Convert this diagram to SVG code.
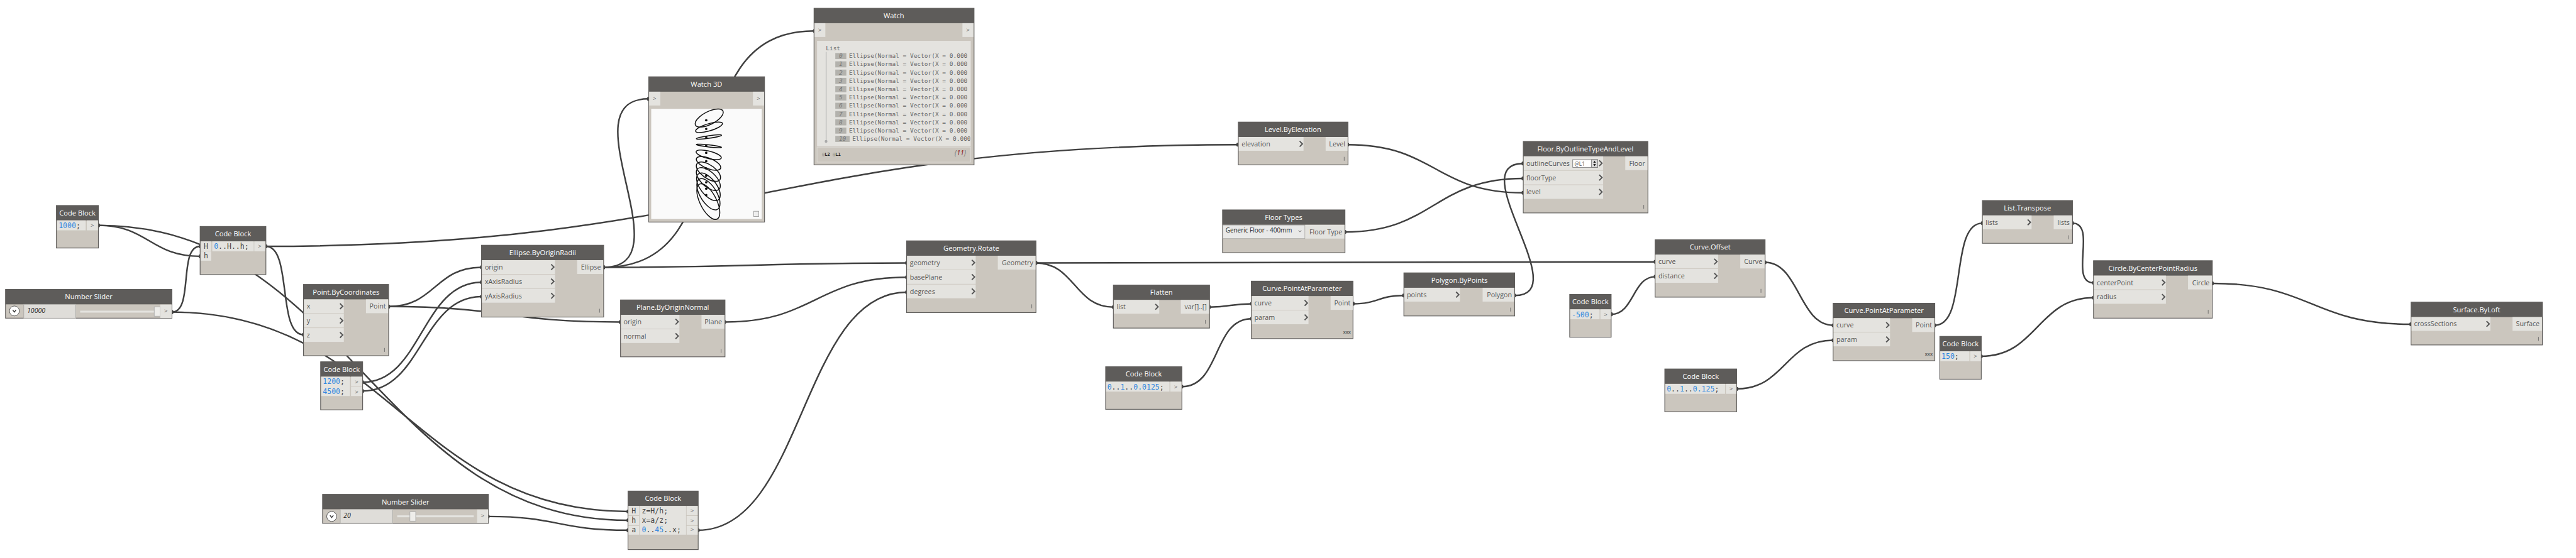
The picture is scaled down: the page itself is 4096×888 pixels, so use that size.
<svg xmlns="http://www.w3.org/2000/svg" width="4096" height="888" viewBox="0 0 4096 888">
<style>
.b{fill:#cbc6be;stroke:#5e5c5a;stroke-width:1.3}
.h{fill:#5e5c5a}
.p{fill:#e4e3df}
.t{font:500 12.7px "Open Sans",sans-serif;fill:#fff;text-anchor:middle}
.l{font:12.2px "Open Sans",sans-serif;fill:#555}
.r{text-anchor:end}
.m{text-anchor:middle}
.c{font:13.1px "DejaVu Sans Mono",monospace;fill:#444}
.n{fill:#2e86e0}
.g{font:11px "Open Sans",sans-serif;fill:#666;text-anchor:middle}
.x{font:bold 8px "Open Sans",sans-serif;fill:#666;text-anchor:end}
.lc{fill:#666}
.s{font:italic 12px "Open Sans",sans-serif;fill:#222}
.w{fill:none;stroke:#404040;stroke-width:2.8;marker-start:url(#nub);marker-end:url(#nub)}
.ch{fill:none;stroke:#555;stroke-width:2.2}
.e{fill:none;stroke:#111;stroke-width:1.5;vector-effect:non-scaling-stroke}
.d{fill:#111}
.wt{font:10.8px "DejaVu Sans Mono",monospace;fill:#666}
.wi{font:italic 10.8px "DejaVu Sans Mono",monospace;fill:#777;text-anchor:middle}
.ib{fill:#b3b2ad}
</style>
<defs>
<marker id="nub" markerUnits="userSpaceOnUse" markerWidth="10" markerHeight="10" refX="5" refY="5" orient="auto"><rect x="2.5" y="1.5" width="5" height="7" rx="2" fill="#404040"/></marker>
<path id="chev" class="ch" d="M-5,-5 L0,0 L-5,5"/>
<circle id="unit" class="e" r="1"/>
<clipPath id="wclip"><rect x="1478" y="74" width="277" height="191"/></clipPath>
</defs>
<g transform="scale(0.879)">
<rect width="4660" height="1010" fill="#fff"/>
<g id="connectors">
<path class="w" d="M178,408 C268,408 272,464 362,464"/>
<path class="w" d="M178,408 C628,408 686,942 1136,942"/>
<path class="w" d="M311,565 C351,565 322,446 362,446"/>
<path class="w" d="M311,565 C699,565 748,926 1136,926"/>
<path class="w" d="M481,446 C529,446 501,606 549,606"/>
<path class="w" d="M481,446 C1307,446 1413,262 2239,262"/>
<path class="w" d="M703,555 C787,555 787,484 871,484"/>
<path class="w" d="M703,555 C913,555 913,583 1122,583"/>
<path class="w" d="M656,692 C763,692 763,511 871,511"/>
<path class="w" d="M656,708 C763,708 763,537 871,537"/>
<path class="w" d="M1092,484 C1366,484 1366,476 1640,476"/>
<path class="w" d="M1092,484 C1242,484 1023,179 1173,179"/>
<path class="w" d="M1092,484 C1357,484 1208,56 1473,56"/>
<path class="w" d="M1311,583 C1475,583 1476,502 1640,502"/>
<path class="w" d="M1263,960 C1453,960 1450,529 1640,529"/>
<path class="w" d="M883,935 C1010,935 1009,960 1136,960"/>
<path class="w" d="M1874,476 C1944,476 1944,556 2014,556"/>
<path class="w" d="M1874,476 C2434,476 2434,474 2994,474"/>
<path class="w" d="M2188,556 C2226,556 2226,550 2264,550"/>
<path class="w" d="M2138,700 C2208,700 2194,577 2264,577"/>
<path class="w" d="M2448,550 C2493,550 2494,535 2539,535"/>
<path class="w" d="M2740,535 C2850,535 2645,296 2755,296"/>
<path class="w" d="M2438,262 C2597,262 2596,349 2755,349"/>
<path class="w" d="M2433,420 C2594,420 2594,323 2755,323"/>
<path class="w" d="M2915,569 C2955,569 2954,501 2994,501"/>
<path class="w" d="M3193,475 C3254,475 3255,589 3316,589"/>
<path class="w" d="M3142,704 C3229,704 3229,616 3316,616"/>
<path class="w" d="M3500,589 C3560,589 3526,404 3586,404"/>
<path class="w" d="M3584,645 C3685,645 3686,539 3787,539"/>
<path class="w" d="M3749,404 C3794,404 3742,512 3787,512"/>
<path class="w" d="M4002,513 C4182,513 4181,587 4361,587"/>
</g>

<g id="cb-1000"><rect class="b" x="102" y="372" width="76" height="77"/><rect class="h" x="102" y="372" width="76" height="27"/><text class="t" x="140" y="390">Code Block</text>
<rect class="p" x="103" y="399" width="52" height="18"/><rect class="p" x="157" y="399" width="20" height="18"/><text class="c" x="106" y="413"><tspan class="n">1000</tspan>;</text><text class="g" x="167" y="412">&gt;</text></g>

<g id="cb-range"><rect class="b" x="362" y="410" width="119" height="87"/><rect class="h" x="362" y="410" width="119" height="27"/><text class="t" x="421.500" y="428">Code Block</text>
<rect class="p" x="363" y="437" width="19" height="17"/><rect class="p" x="363" y="455" width="19" height="17"/><rect class="p" x="384" y="437" width="75" height="18"/><rect class="p" x="460" y="437" width="20" height="18"/>
<text class="c m" x="372.500" y="450">H</text><text class="c m" x="372.500" y="468">h</text><text class="c" x="387" y="450"><tspan class="n">0</tspan>..H..h;</text><text class="g" x="470" y="449">&gt;</text></g>

<g id="slider-10000"><rect class="b" x="10" y="524" width="301" height="52"/><rect class="h" x="10" y="524" width="301" height="27"/><text class="t" x="160.500" y="542">Number Slider</text>
<circle cx="26" cy="563" r="9" fill="#fff" stroke="#444"/><path d="M23,561 L26,565 L29,561" fill="none" stroke="#333" stroke-width="1.6"/>
<rect x="43" y="551" width="94" height="25" fill="#dfddd9" stroke="#a9a8a4"/><text class="s" x="49" y="566">10000</text>
<rect x="145" y="562.500" width="134" height="3.500" fill="#e4e3df"/><rect x="279" y="555.500" width="11" height="17" fill="#eeedea" stroke="#aaa"/>
<rect class="p" x="290" y="551.500" width="20.500" height="24"/><text class="g" x="300" y="566">&gt;</text></g>

<g id="point-by-coordinates"><rect class="b" x="549" y="515" width="154" height="129"/><rect class="h" x="549" y="515" width="154" height="27"/><text class="t" x="626" y="533">Point.ByCoordinates</text>
<rect class="p" x="550" y="542" width="72" height="25"/><rect class="p" x="550" y="568" width="72" height="25"/><rect class="p" x="550" y="594" width="72" height="25"/><rect class="p" x="662" y="542" width="40" height="25"/>
<text class="l" x="555" y="559">x</text><text class="l" x="555" y="585">y</text><text class="l" x="555" y="611">z</text><text class="l r" x="698" y="559">Point</text>
<use href="#chev" x="620" y="554.500"/><use href="#chev" x="620" y="580.500"/><use href="#chev" x="620" y="606.500"/><rect class="lc" x="695" y="630" width="1" height="7"/></g>

<g id="cb-radii"><rect class="b" x="580" y="655" width="76" height="87"/><rect class="h" x="580" y="655" width="76" height="27"/><text class="t" x="618" y="673">Code Block</text>
<rect class="p" x="581" y="682" width="52" height="35"/><rect class="p" x="635" y="682" width="20" height="17"/><rect class="p" x="635" y="700" width="20" height="17"/>
<text class="c" x="584" y="695"><tspan class="n">1200</tspan>;</text><text class="c" x="584" y="713"><tspan class="n">4500</tspan>;</text><text class="g" x="645" y="695">&gt;</text><text class="g" x="645" y="713">&gt;</text></g>

<g id="ellipse-by-origin-radii"><rect class="b" x="871" y="444" width="221" height="130"/><rect class="h" x="871" y="444" width="221" height="27"/><text class="t" x="981.500" y="462">Ellipse.ByOriginRadii</text>
<rect class="p" x="872" y="471" width="132" height="25"/><rect class="p" x="872" y="497" width="132" height="25"/><rect class="p" x="872" y="523" width="132" height="25"/><rect class="p" x="1044" y="471" width="47" height="25"/>
<text class="l" x="877" y="488">origin</text><text class="l" x="877" y="514">xAxisRadius</text><text class="l" x="877" y="540">yAxisRadius</text><text class="l r" x="1087" y="488">Ellipse</text>
<use href="#chev" x="1002" y="483.500"/><use href="#chev" x="1002" y="509.500"/><use href="#chev" x="1002" y="535.500"/><rect class="lc" x="1084" y="559" width="1" height="7"/></g>

<g id="plane-by-origin-normal"><rect class="b" x="1122.500" y="543" width="189" height="103"/><rect class="h" x="1122.500" y="543" width="189" height="27"/><text class="t" x="1217" y="561">Plane.ByOriginNormal</text>
<rect class="p" x="1123.500" y="570" width="105.500" height="25"/><rect class="p" x="1123.500" y="596" width="105.500" height="25"/><rect class="p" x="1269" y="570" width="41.500" height="25"/>
<text class="l" x="1128" y="587">origin</text><text class="l" x="1128" y="613">normal</text><text class="l r" x="1306" y="587">Plane</text>
<use href="#chev" x="1227" y="582.500"/><use href="#chev" x="1227" y="608.500"/><rect class="lc" x="1304" y="632" width="1" height="7"/></g>

<g id="slider-20"><rect class="b" x="583.500" y="895" width="300" height="52.500"/><rect class="h" x="583.500" y="895" width="300" height="27"/><text class="t" x="733.500" y="913">Number Slider</text>
<circle cx="600" cy="935" r="9" fill="#fff" stroke="#444"/><path d="M597,933 L600,937 L603,933" fill="none" stroke="#333" stroke-width="1.600"/>
<rect x="615.500" y="922" width="95" height="25" fill="#dfddd9" stroke="#a9a8a4"/><text class="s" x="621.500" y="937">20</text>
<rect x="718.500" y="933" width="138.500" height="3.500" fill="#e4e3df"/><rect x="741.500" y="926.500" width="10.500" height="17" fill="#eeedea" stroke="#aaa"/>
<rect class="p" x="863" y="922.500" width="20" height="24"/><text class="g" x="873" y="937">&gt;</text></g>

<g id="cb-rotation"><rect class="b" x="1136" y="889" width="127" height="106"/><rect class="h" x="1136" y="889" width="127" height="27"/><text class="t" x="1199.500" y="907">Code Block</text>
<rect class="p" x="1137" y="916" width="19" height="17"/><rect class="p" x="1137" y="934" width="19" height="17"/><rect class="p" x="1137" y="952" width="19" height="16"/><rect class="p" x="1157" y="916" width="84" height="52"/><rect class="p" x="1242" y="916" width="20" height="17"/><rect class="p" x="1242" y="934" width="20" height="17"/><rect class="p" x="1242" y="952" width="20" height="16"/>
<text class="c m" x="1146.500" y="929">H</text><text class="c m" x="1146.500" y="947">h</text><text class="c m" x="1146.500" y="964">a</text>
<text class="c" x="1161" y="929">z=H/h;</text><text class="c" x="1161" y="947">x=a/z;</text><text class="c" x="1161" y="964"><tspan class="n">0</tspan>..<tspan class="n">45</tspan>..x;</text>
<text class="g" x="1252" y="928">&gt;</text><text class="g" x="1252" y="946">&gt;</text><text class="g" x="1252" y="963">&gt;</text></g>

<g id="watch-3d"><rect class="b" x="1173.500" y="139" width="209.500" height="263"/><rect class="h" x="1173.500" y="139" width="209.500" height="27"/><text class="t" x="1278" y="157">Watch 3D</text>
<rect class="p" x="1174.500" y="166" width="20" height="25"/><rect class="p" x="1362" y="166" width="20" height="25"/><text class="g" x="1184" y="182">&gt;</text><text class="g" x="1372" y="182">&gt;</text>
<rect x="1178" y="197" width="200" height="199.500" fill="#fafafa"/>
<use href="#unit" transform="matrix(25.4,-10.3,0,12.7,1282.9,213.7)"/><use href="#unit" transform="matrix(24.3,-6.6,0,6.8,1282.6,230.5)"/><use href="#unit" transform="matrix(22.8,-3.2,0,2.4,1282.4,248)"/><use href="#unit" transform="matrix(22.8,2.6,0,1.9,1282.4,264.2)"/><use href="#unit" transform="matrix(22.8,5.2,0,7,1282,280.3)"/><use href="#unit" transform="matrix(22.1,7.5,0,10,1281.7,295.8)"/><use href="#unit" transform="matrix(21.9,10.5,0,14,1281.5,310.8)"/><use href="#unit" transform="matrix(21.7,12.5,0,16.6,1281.3,324.2)"/><use href="#unit" transform="matrix(21.4,15,0,20,1281.5,338.3)"/><use href="#unit" transform="matrix(21,17,0,22.6,1281.5,351.7)"/><use href="#unit" transform="matrix(20.8,20,0,25.4,1281.3,365)"/>
<circle class="d" cx="1277.500" cy="217.700" r="2.200"/><circle class="d" cx="1277.500" cy="233.300" r="2.200"/><circle class="d" cx="1277.500" cy="248" r="2.200"/><circle class="d" cx="1277.500" cy="264" r="2.200"/><circle class="d" cx="1277.500" cy="276.700" r="2.200"/><circle class="d" cx="1277.500" cy="291.700" r="2.200"/><circle class="d" cx="1277.500" cy="305" r="2.200"/><circle class="d" cx="1277.500" cy="318.300" r="2.200"/><circle class="d" cx="1277.500" cy="330" r="2.200"/><circle class="d" cx="1277.500" cy="341.700" r="2.200"/><circle class="d" cx="1277.500" cy="353.300" r="2.200"/>
<rect x="1363.500" y="382.500" width="9" height="9.500" fill="#eee" stroke="#999"/></g>

<g id="watch"><rect class="b" x="1472.500" y="15" width="289.500" height="283.500"/><rect class="h" x="1472.500" y="15" width="289.500" height="27"/><text class="t" x="1617" y="33">Watch</text>
<rect class="p" x="1473.500" y="42" width="19.500" height="25"/><rect class="p" x="1741" y="42" width="20" height="25"/><text class="g" x="1483" y="58">&gt;</text><text class="g" x="1751" y="58">&gt;</text>
<rect class="p" x="1478" y="74" width="278" height="191"/><rect x="1478" y="266.500" width="278" height="27" fill="none" stroke="#dcdad5"/>
<text class="wt" x="1494" y="91">List</text><rect x="1493.700" y="94" width="1.300" height="162" fill="#aaa"/><circle cx="1494.300" cy="256" r="2.500" fill="#aaa"/>
<g clip-path="url(#wclip)">
<rect class="ib" x="1511" y="96" width="20" height="11"/><text class="wi" x="1521" y="105">0</text><text class="wt" x="1535.700" y="105">Ellipse(Normal = Vector(X = 0.000</text>
<rect class="ib" x="1511" y="111" width="20" height="11"/><text class="wi" x="1521" y="120">1</text><text class="wt" x="1535.700" y="120">Ellipse(Normal = Vector(X = 0.000</text>
<rect class="ib" x="1511" y="126" width="20" height="11"/><text class="wi" x="1521" y="135">2</text><text class="wt" x="1535.700" y="135">Ellipse(Normal = Vector(X = 0.000</text>
<rect class="ib" x="1511" y="141" width="20" height="11"/><text class="wi" x="1521" y="150">3</text><text class="wt" x="1535.700" y="150">Ellipse(Normal = Vector(X = 0.000</text>
<rect class="ib" x="1511" y="156" width="20" height="11"/><text class="wi" x="1521" y="165">4</text><text class="wt" x="1535.700" y="165">Ellipse(Normal = Vector(X = 0.000</text>
<rect class="ib" x="1511" y="171" width="20" height="11"/><text class="wi" x="1521" y="180">5</text><text class="wt" x="1535.700" y="180">Ellipse(Normal = Vector(X = 0.000</text>
<rect class="ib" x="1511" y="186" width="20" height="11"/><text class="wi" x="1521" y="195">6</text><text class="wt" x="1535.700" y="195">Ellipse(Normal = Vector(X = 0.000</text>
<rect class="ib" x="1511" y="201" width="20" height="11"/><text class="wi" x="1521" y="210">7</text><text class="wt" x="1535.700" y="210">Ellipse(Normal = Vector(X = 0.000</text>
<rect class="ib" x="1511" y="216" width="20" height="11"/><text class="wi" x="1521" y="225">8</text><text class="wt" x="1535.700" y="225">Ellipse(Normal = Vector(X = 0.000</text>
<rect class="ib" x="1511" y="231" width="20" height="11"/><text class="wi" x="1521" y="240">9</text><text class="wt" x="1535.700" y="240">Ellipse(Normal = Vector(X = 0.000</text>
<rect class="ib" x="1511" y="246" width="26" height="11"/><text class="wi" x="1524" y="255">10</text><text class="wt" x="1541.700" y="255">Ellipse(Normal = Vector(X = 0.000</text>
</g>
<text x="1487" y="282" style="font:8px 'DejaVu Sans Mono',monospace" fill="#888">@<tspan font-weight="bold" fill="#222">L2</tspan> @<tspan font-weight="bold" fill="#222">L1</tspan></text>
<text x="1748" y="281" text-anchor="end" style="font:italic 12px 'Open Sans',sans-serif" fill="#777">{<tspan fill="#8b1010">11</tspan>}</text></g>

<g id="level-by-elevation"><rect class="b" x="2240" y="221" width="198.500" height="77.500"/><rect class="h" x="2240" y="221" width="198.500" height="27"/><text class="t" x="2339" y="239">Level.ByElevation</text>
<rect class="p" x="2241" y="248" width="117" height="25"/><rect class="p" x="2398" y="248" width="39.500" height="25"/><text class="l" x="2246" y="265">elevation</text><text class="l r" x="2433.500" y="265">Level</text><use href="#chev" x="2356" y="260.500"/><rect class="lc" x="2431" y="284" width="1" height="7"/></g>

<g id="floor-types"><rect class="b" x="2211.500" y="380" width="221.500" height="77.500"/><rect class="h" x="2211.500" y="380" width="221.500" height="27"/><text class="t" x="2322" y="398">Floor Types</text>
<rect x="2212" y="407.500" width="148.500" height="24.500" fill="#e9e9e8" stroke="#a9a8a4"/><rect class="p" x="2361" y="407" width="71" height="25"/>
<text x="2217" y="421" style="font:11.3px 'Open Sans',sans-serif" fill="#222">Generic Floor - 400mm</text><path d="M2349,417 L2351.500,420 L2354,417" fill="none" stroke="#666" stroke-width="1"/><text class="l r" x="2428" y="424">Floor Type</text></g>

<g id="floor-by-outline"><rect class="b" x="2755.500" y="256" width="225.500" height="129.500"/><rect class="h" x="2755.500" y="256" width="225.500" height="27"/><text class="t" x="2868" y="274">Floor.ByOutlineTypeAndLevel</text>
<rect class="p" x="2756.500" y="283" width="143.500" height="25"/><rect class="p" x="2756.500" y="309" width="143.500" height="25"/><rect class="p" x="2756.500" y="335" width="143.500" height="25"/><rect class="p" x="2940" y="283" width="40" height="25"/>
<text class="l" x="2761" y="300">outlineCurves</text><text class="l" x="2761" y="326">floorType</text><text class="l" x="2761" y="352">level</text><text class="l r" x="2976" y="300">Floor</text>
<rect x="2845" y="289" width="45" height="14" fill="#fff" stroke="#777"/><text x="2848" y="300" style="font:9.500px 'Open Sans',sans-serif" fill="#555">@L1</text><rect x="2879" y="289" width="11" height="14" fill="#ddd" stroke="#777"/><path d="M2882,295 L2884.500,291 L2887,295Z M2882,297 L2884.500,301 L2887,297Z" fill="#222"/>
<use href="#chev" x="2898" y="295.500"/><use href="#chev" x="2898" y="321.500"/><use href="#chev" x="2898" y="347.500"/><rect class="lc" x="2973" y="371" width="1" height="7"/></g>

<g id="geometry-rotate"><rect class="b" x="1640" y="436" width="234" height="130"/><rect class="h" x="1640" y="436" width="234" height="27"/><text class="t" x="1757" y="454">Geometry.Rotate</text>
<rect class="p" x="1641" y="463" width="124" height="25"/><rect class="p" x="1641" y="489" width="124" height="25"/><rect class="p" x="1641" y="515" width="124" height="25"/><rect class="p" x="1805" y="463" width="68" height="25"/>
<text class="l" x="1646" y="480">geometry</text><text class="l" x="1646" y="506">basePlane</text><text class="l" x="1646" y="532">degrees</text><text class="l r" x="1869" y="480">Geometry</text>
<use href="#chev" x="1763" y="475.500"/><use href="#chev" x="1763" y="501.500"/><use href="#chev" x="1763" y="527.500"/><rect class="lc" x="1866" y="551" width="1" height="7"/></g>

<g id="flatten"><rect class="b" x="2014" y="516" width="174" height="78"/><rect class="h" x="2014" y="516" width="174" height="27"/><text class="t" x="2101" y="534">Flatten</text>
<rect class="p" x="2015" y="543" width="82" height="25"/><rect class="p" x="2136" y="543" width="51" height="25"/><text class="l" x="2020" y="560">list</text><text class="l r" x="2183" y="560">var[]..[]</text><use href="#chev" x="2095" y="555.500"/><rect class="lc" x="2180" y="579" width="1" height="7"/></g>

<g id="curve-pap-1"><rect class="b" x="2263.500" y="509" width="184" height="104"/><rect class="h" x="2263.500" y="509" width="184" height="27"/><text class="t" x="2355.500" y="527">Curve.PointAtParameter</text>
<rect class="p" x="2264.500" y="536" width="102.500" height="25"/><rect class="p" x="2264.500" y="562" width="102.500" height="25"/><rect class="p" x="2407" y="536" width="40" height="25"/>
<text class="l" x="2269" y="553">curve</text><text class="l" x="2269" y="579">param</text><text class="l r" x="2443" y="553">Point</text><use href="#chev" x="2365" y="548.500"/><use href="#chev" x="2365" y="574.500"/><text class="x" x="2443.500" y="604">xxx</text></g>

<g id="polygon-by-points"><rect class="b" x="2539.500" y="494" width="200.500" height="78"/><rect class="h" x="2539.500" y="494" width="200.500" height="27"/><text class="t" x="2640" y="512">Polygon.ByPoints</text>
<rect class="p" x="2540.500" y="521" width="100.500" height="25"/><rect class="p" x="2682" y="521" width="57" height="25"/><text class="l" x="2545" y="538">points</text><text class="l r" x="2735" y="538">Polygon</text><use href="#chev" x="2639" y="533.500"/><rect class="lc" x="2732" y="557" width="1" height="7"/></g>

<g id="cb-params-fine"><rect class="b" x="2000" y="664" width="138" height="77"/><rect class="h" x="2000" y="664" width="138" height="27"/><text class="t" x="2069" y="682">Code Block</text>
<rect class="p" x="2001" y="691" width="114.500" height="18"/><rect class="p" x="2117" y="691" width="20" height="18"/><text class="c" x="2003" y="705"><tspan class="n">0</tspan>..<tspan class="n">1</tspan>..<tspan class="n">0.0125</tspan>;</text><text class="g" x="2127" y="704">&gt;</text></g>

<g id="curve-offset"><rect class="b" x="2994" y="434" width="199" height="104"/><rect class="h" x="2994" y="434" width="199" height="27"/><text class="t" x="3093.500" y="452">Curve.Offset</text>
<rect class="p" x="2995" y="461" width="113" height="25"/><rect class="p" x="2995" y="487" width="113" height="25"/><rect class="p" x="3148" y="461" width="44" height="25"/>
<text class="l" x="3000" y="478">curve</text><text class="l" x="3000" y="504">distance</text><text class="l r" x="3188" y="478">Curve</text><use href="#chev" x="3106" y="473.500"/><use href="#chev" x="3106" y="499.500"/><rect class="lc" x="3185" y="523" width="1" height="7"/></g>

<g id="cb-offset"><rect class="b" x="2839.500" y="533" width="75" height="77.500"/><rect class="h" x="2839.500" y="533" width="75" height="27"/><text class="t" x="2877" y="551">Code Block</text>
<rect class="p" x="2840.500" y="560" width="53" height="18"/><rect class="p" x="2895" y="560" width="19" height="18"/><text class="c" x="2843" y="574"><tspan class="n">-500</tspan>;</text><text class="g" x="2904.500" y="573">&gt;</text></g>

<g id="cb-params"><rect class="b" x="3011.500" y="668" width="130" height="77.500"/><rect class="h" x="3011.500" y="668" width="130" height="27"/><text class="t" x="3076.500" y="686">Code Block</text>
<rect class="p" x="3012.500" y="695" width="108" height="18"/><rect class="p" x="3122" y="695" width="19" height="18"/><text class="c" x="3015" y="709"><tspan class="n">0</tspan>..<tspan class="n">1</tspan>..<tspan class="n">0.125</tspan>;</text><text class="g" x="3131.500" y="708">&gt;</text></g>

<g id="curve-pap-2"><rect class="b" x="3316" y="549" width="184" height="104"/><rect class="h" x="3316" y="549" width="184" height="27"/><text class="t" x="3408" y="567">Curve.PointAtParameter</text>
<rect class="p" x="3317" y="576" width="102" height="25"/><rect class="p" x="3317" y="602" width="102" height="25"/><rect class="p" x="3459" y="576" width="40" height="25"/>
<text class="l" x="3322" y="593">curve</text><text class="l" x="3322" y="619">param</text><text class="l r" x="3495" y="593">Point</text><use href="#chev" x="3417" y="588.500"/><use href="#chev" x="3417" y="614.500"/><text class="x" x="3496" y="644">xxx</text></g>

<g id="cb-radius"><rect class="b" x="3509" y="609" width="75" height="77.500"/><rect class="h" x="3509" y="609" width="75" height="27"/><text class="t" x="3546.500" y="627">Code Block</text>
<rect class="p" x="3510" y="636" width="52.500" height="18"/><rect class="p" x="3564" y="636" width="19" height="18"/><text class="c" x="3512" y="650"><tspan class="n">150</tspan>;</text><text class="g" x="3573.500" y="649">&gt;</text></g>

<g id="list-transpose"><rect class="b" x="3586" y="363" width="163" height="77.500"/><rect class="h" x="3586" y="363" width="163" height="27"/><text class="t" x="3667.500" y="381">List.Transpose</text>
<rect class="p" x="3587" y="390" width="88" height="25"/><rect class="p" x="3715" y="390" width="33" height="25"/><text class="l" x="3592" y="407">lists</text><text class="l r" x="3744" y="407">lists</text><use href="#chev" x="3673" y="402.500"/><rect class="lc" x="3741" y="426" width="1" height="7"/></g>

<g id="circle-by-center"><rect class="b" x="3787" y="472" width="215" height="104"/><rect class="h" x="3787" y="472" width="215" height="27"/><text class="t" x="3894.500" y="490">Circle.ByCenterPointRadius</text>
<rect class="p" x="3788" y="499" width="130" height="25"/><rect class="p" x="3788" y="525" width="130" height="25"/><rect class="p" x="3958" y="499" width="43" height="25"/>
<text class="l" x="3793" y="516">centerPoint</text><text class="l" x="3793" y="542">radius</text><text class="l r" x="3997" y="516">Circle</text><use href="#chev" x="3916" y="511.500"/><use href="#chev" x="3916" y="537.500"/><rect class="lc" x="3994" y="561" width="1" height="7"/></g>

<g id="surface-by-loft"><rect class="b" x="4361.500" y="547" width="237.500" height="77.500"/><rect class="h" x="4361.500" y="547" width="237.500" height="27"/><text class="t" x="4480" y="565">Surface.ByLoft</text>
<rect class="p" x="4362.500" y="574" width="142.500" height="25"/><rect class="p" x="4545" y="574" width="53" height="25"/><text class="l" x="4367" y="591">crossSections</text><text class="l r" x="4594" y="591">Surface</text><use href="#chev" x="4503" y="586.500"/><rect class="lc" x="4591.500" y="610" width="1" height="7"/></g>
</g>
</svg>
